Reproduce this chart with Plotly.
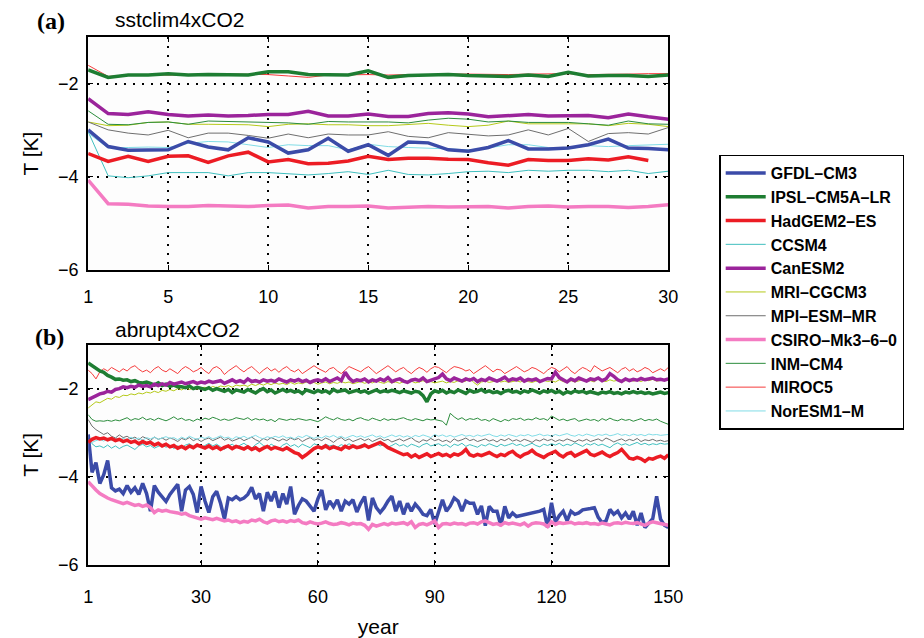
import plotly.graph_objects as go

models = ["GFDL–CM3", "IPSL–CM5A–LR", "HadGEM2–ES", "CCSM4", "CanESM2", "MRI–CGCM3",
          "MPI–ESM–MR", "CSIRO–Mk3–6–0", "INM–CM4", "MIROC5", "NorESM1–M"]
colors = ["#3b4ba8", "#1e7d32", "#ec1c24", "#3fbfbf", "#9b249b", "#b5c91a",
          "#6e6e6e", "#f47bc2", "#2b8c3c", "#f53b3b", "#80dce6"]
widths = [3.5, 3.5, 3.5, 1, 3.5, 1, 1, 3.5, 1, 1, 1]

years_a = list(range(1, 31))
years_b = list(range(1, 151))
xticks_a = [1, 5, 10, 15, 20, 25, 30]
xticks_b = [1, 30, 60, 90, 120, 150]
yticks = [-6, -4, -2]

# ---- (a) sstclim4xCO2 ----
gfdl_a = [-2.99, -3.35, -3.43, -3.43, -3.42, -3.24, -3.36, -3.42, -3.16, -3.25, -3.49, -3.42, -3.17, -3.45, -3.31,
          -3.54, -3.25, -3.27, -3.42, -3.45, -3.37, -3.22, -3.40, -3.40, -3.38, -3.31, -3.19, -3.38, -3.39, -3.42]
ipsl_a = [-1.70, -1.86, -1.81, -1.81, -1.78, -1.81, -1.80, -1.81, -1.81, -1.74, -1.74, -1.80, -1.81, -1.81, -1.72,
          -1.86, -1.82, -1.81, -1.80, -1.82, -1.83, -1.84, -1.81, -1.84, -1.75, -1.83, -1.82, -1.82, -1.84, -1.81]
hadgem_a = [-3.50, -3.67, -3.56, -3.67, -3.56, -3.55, -3.69, -3.55, -3.47, -3.68, -3.63, -3.72, -3.71, -3.66, -3.56,
            -3.63, -3.60, -3.60, -3.62, -3.63, -3.70, -3.75, -3.63, -3.65, -3.65, -3.61, -3.64, -3.57, -3.65, None]
ccsm4_a = [-3.03, -3.98, -4.02, -3.98, -3.91, -3.91, -3.91, -3.98, -3.91, -3.91, -3.93, -3.96, -3.93, -3.89, -3.95,
           -3.86, -3.95, -3.96, -3.93, -3.89, -3.88, -3.91, -3.86, -3.88, -3.86, -3.86, -3.89, -3.86, -3.93, -3.88]
canesm_a = [-2.32, -2.64, -2.66, -2.60, -2.66, -2.69, -2.67, -2.69, -2.68, -2.66, -2.66, -2.59, -2.69, -2.69, -2.65,
            -2.70, -2.70, -2.64, -2.62, -2.65, -2.71, -2.69, -2.66, -2.69, -2.68, -2.68, -2.73, -2.65, -2.71, -2.76]
mri_a = [-2.82, -2.90, -2.89, -2.83, -2.82, -2.87, -2.87, -2.87, -2.88, -2.92, -2.87, -2.86, -2.88, -2.88, -2.90,
         -2.90, -2.87, -2.85, -2.89, -2.92, -2.89, -2.80, -2.86, -2.86, -2.85, -2.86, -2.90, -2.85, -2.87, -2.92]
mpi_a = [-2.82, -2.99, -3.06, -3.10, -3.00, -3.16, -3.06, -3.06, -3.11, -3.17, -3.08, -3.16, -3.08, -3.10, -3.10,
         -3.03, -3.13, -3.16, -3.05, -3.08, -3.12, -3.10, -2.99, -3.10, -2.96, -3.24, -3.07, -3.05, -3.08, -2.94]
csiro_a = [-4.07, -4.58, -4.59, -4.63, -4.64, -4.64, -4.62, -4.63, -4.64, -4.62, -4.61, -4.67, -4.64, -4.64, -4.63,
           -4.67, -4.66, -4.64, -4.65, -4.64, -4.64, -4.67, -4.64, -4.63, -4.65, -4.64, -4.64, -4.66, -4.64, -4.60]
inm_a = [-2.58, -2.87, -2.88, -2.83, -2.82, -2.87, -2.80, -2.81, -2.81, -2.82, -2.84, -2.87, -2.81, -2.82, -2.82,
         -2.82, -2.84, -2.78, -2.74, -2.76, -2.82, -2.80, -2.83, -2.83, -2.83, -2.86, -2.89, -2.80, -2.86, -2.87]
miroc_a = [-1.60, -1.84, -1.81, -1.81, -1.80, -1.80, -1.81, -1.79, -1.79, -1.80, -1.83, -1.86, -1.81, -1.80, -1.80,
           -1.81, -1.80, -1.81, -1.79, -1.79, -1.80, -1.80, -1.79, -1.79, -1.78, -1.80, -1.80, -1.79, -1.78, -1.78]
noresm_a = [-3.06, -3.38, -3.37, -3.36, -3.37, -3.28, -3.24, -3.25, -3.31, -3.37, -3.31, -3.33, -3.33, -3.42, -3.30,
            -3.35, -3.37, -3.38, -3.40, -3.42, -3.38, -3.31, -3.31, -3.37, -3.40, -3.33, -3.35, -3.33, -3.32, -3.30]

# ---- (b) abrupt4xCO2 ----
gfdl_b = [-3.04, -3.90, -3.68, -4.15, -3.95, -3.63, -4.25, -4.32, -4.28, -4.38,
          -4.20, -4.35, -4.25, -4.40, -4.15, -4.38, -4.78, -4.20, -4.35, -4.45,
          -4.56, -4.40, -4.30, -4.17, -4.78, -4.30, -4.22, -4.40, -4.81, -4.22,
          -4.55, -4.81, -4.45, -4.33, -4.60, -4.96, -4.48, -4.52, -4.45, -4.52,
          -4.48, -4.40, -4.24, -4.50, -4.38, -4.78, -4.35, -4.55, -4.33, -4.70,
          -4.38, -4.62, -4.22, -4.85, -4.65, -4.50, -4.55, -4.68, -4.78, -4.50,
          -4.30, -4.75, -4.55, -4.68, -4.52, -4.78, -4.55, -4.62, -4.52, -4.80,
          -4.60, -4.45, -4.99, -4.48, -4.70, -4.81, -4.70, -4.55, -4.44, -4.78,
          -4.55, -4.85, -4.60, -4.78, -4.62, -4.72, -4.85, -4.88, -4.74, -5.07,
          -4.78, -4.52, -4.78, -4.66, -4.48, -4.55, -4.78, -4.55, -4.60, -4.60,
          -4.85, -4.66, -5.11, -4.67, -4.78, -4.78, -5.11, -4.67, -4.93, -4.82,
          -4.90, -4.88, -4.86, -4.85, -4.82, -4.80, -4.78, -4.74, -5.15, -4.59,
          -5.03, -4.88, -4.78, -5.00, -4.78, -4.85, -4.82, -4.75, -4.74, -4.72,
          -4.70, -4.92, -5.04, -5.00, -4.74, -4.85, -4.78, -4.93, -4.82, -4.96,
          -4.78, -5.10, -4.82, -5.15, -5.05, -4.95, -4.44, -4.96, -5.10, -5.15]
ipsl_b = [-1.42, -1.48, -1.55, -1.60, -1.63, -1.70, -1.74, -1.79, -1.78, -1.81,
          -1.80, -1.84, -1.82, -1.86, -1.87, -1.85, -1.88, -1.92, -1.87, -1.93,
          -1.90, -1.95, -1.92, -1.96, -1.96, -1.98, -1.94, -2.00, -1.97, -2.00,
          -2.02, -1.98, -2.04, -2.00, -2.04, -2.06, -2.02, -2.09, -2.03, -2.05,
          -2.08, -2.02, -2.06, -2.10, -2.04, -2.00, -2.07, -2.03, -2.10, -2.05,
          -2.02, -2.07, -2.04, -2.08, -2.05, -2.11, -2.03, -2.06, -2.09, -2.04,
          -2.08, -2.05, -2.10, -2.02, -2.07, -2.05, -2.03, -2.09, -2.06, -2.04,
          -2.08, -2.05, -2.10, -2.06, -2.03, -2.08, -2.05, -2.07, -2.04, -2.06,
          -2.09, -2.05, -2.07, -2.10, -2.06, -2.08, -2.16, -2.30, -2.12, -2.05,
          -2.08, -2.04, -2.10, -2.06, -2.09, -2.03, -2.07, -2.11, -2.04, -2.08,
          -2.06, -2.02, -2.08, -2.05, -2.09, -2.07, -2.11, -2.06, -2.04, -2.08,
          -2.06, -2.10, -2.05, -2.08, -2.03, -2.07, -2.10, -2.05, -2.08, -2.04,
          -2.09, -2.06, -2.12, -2.07, -2.10, -2.05, -2.08, -2.06, -2.10, -2.07,
          -2.09, -2.12, -2.08, -2.10, -2.07, -2.11, -2.09, -2.12, -2.08, -2.10,
          -2.07, -2.10, -2.08, -2.11, -2.09, -2.12, -2.10, -2.08, -2.11, -2.09]
hadgem_b = [-3.22, -3.15, -3.11, -3.14, -3.12, -3.16, -3.13, -3.18, -3.15, -3.20,
            -3.17, -3.22, -3.19, -3.25, -3.20, -3.24, -3.22, -3.28, -3.24, -3.30,
            -3.26, -3.32, -3.29, -3.35, -3.31, -3.36, -3.30, -3.34, -3.28, -3.32,
            -3.35, -3.30, -3.36, -3.32, -3.38, -3.33, -3.30, -3.36, -3.31, -3.34,
            -3.37, -3.32, -3.38, -3.34, -3.40, -3.35, -3.31, -3.37, -3.33, -3.36,
            -3.39, -3.34, -3.40, -3.45, -3.48, -3.56, -3.50, -3.42, -3.36, -3.32,
            -3.35, -3.30, -3.36, -3.32, -3.34, -3.38, -3.31, -3.35, -3.30, -3.34,
            -3.32, -3.28, -3.33, -3.30, -3.26, -3.22, -3.27, -3.34, -3.38, -3.41,
            -3.46, -3.50, -3.48, -3.55, -3.50, -3.56, -3.52, -3.48, -3.54, -3.50,
            -3.47, -3.52, -3.49, -3.54, -3.48, -3.51, -3.46, -3.38, -3.50, -3.53,
            -3.49, -3.52, -3.48, -3.45, -3.50, -3.54, -3.49, -3.52, -3.46, -3.42,
            -3.50, -3.55, -3.49, -3.46, -3.40, -3.48, -3.52, -3.56, -3.50, -3.47,
            -3.42, -3.50, -3.55, -3.48, -3.45, -3.53, -3.49, -3.46, -3.40, -3.49,
            -3.52, -3.48, -3.44, -3.50, -3.54, -3.49, -3.45, -3.38, -3.47, -3.58,
            -3.60, -3.56, -3.59, -3.65, -3.58, -3.60, -3.56, -3.53, -3.58, -3.50]
ccsm4_b = [-3.12, -3.25, -3.32, -3.30, -3.34, -3.28, -3.35, -3.30, -3.36, -3.31,
           -3.28, -3.33, -3.38, -3.30, -3.26, -3.32, -3.29, -3.35, -3.31, -3.27,
           -3.33, -3.29, -3.36, -3.30, -3.34, -3.28, -3.25, -3.31, -3.27, -3.33,
           -3.29, -3.24, -3.30, -3.26, -3.32, -3.38, -3.30, -3.26, -3.33, -3.28,
           -3.24, -3.30, -3.35, -3.27, -3.22, -3.29, -3.33, -3.26, -3.31, -3.36,
           -3.28, -3.24, -3.31, -3.27, -3.33, -3.26, -3.30, -3.34, -3.25, -3.29,
           -3.32, -3.26, -3.30, -3.28, -3.33, -3.27, -3.31, -3.25, -3.30, -3.34,
           -3.28, -3.26, -3.31, -3.27, -3.25, -3.30, -3.26, -3.33, -3.29, -3.24,
           -3.30, -3.27, -3.32, -3.26, -3.29, -3.33, -3.27, -3.24, -3.30, -3.28,
           -3.25, -3.30, -3.27, -3.33, -3.26, -3.29, -3.24, -3.31, -3.27, -3.30,
           -3.33, -3.27, -3.30, -3.25, -3.29, -3.32, -3.26, -3.30, -3.27, -3.24,
           -3.29, -3.26, -3.31, -3.27, -3.24, -3.29, -3.32, -3.26, -3.29, -3.25,
           -3.28, -3.24, -3.30, -3.26, -3.29, -3.23, -3.27, -3.31, -3.25, -3.28,
           -3.24, -3.29, -3.26, -3.30, -3.34, -3.27, -3.23, -3.28, -3.25, -3.29,
           -3.26, -3.22, -3.27, -3.24, -3.28, -3.25, -3.27, -3.24, -3.26, -3.25]
canesm_b = [-2.25, -2.20, -2.15, -2.12, -2.10, -2.06, -2.08, -2.02, -2.00, -1.96,
            -1.98, -1.95, -1.97, -1.92, -1.95, -1.93, -1.96, -1.90, -1.93, -1.89,
            -1.92, -1.86, -1.90, -1.88, -1.85, -1.89, -1.87, -1.84, -1.88, -1.85,
            -1.87, -1.83, -1.86, -1.85, -1.82, -1.88, -1.84, -1.80, -1.85, -1.82,
            -1.86, -1.78, -1.84, -1.82, -1.85, -1.80, -1.83, -1.81, -1.84, -1.78,
            -1.82, -1.85, -1.80, -1.83, -1.79, -1.84, -1.81, -1.86, -1.82, -1.80,
            -1.83, -1.78, -1.84, -1.80, -1.76, -1.82, -1.63, -1.76, -1.84, -1.80,
            -1.82, -1.78, -1.85, -1.80, -1.83, -1.78, -1.82, -1.75, -1.84, -1.80,
            -1.78, -1.83, -1.86, -1.81, -1.79, -1.82, -1.76, -1.84, -1.80, -1.78,
            -1.75, -1.67, -1.78, -1.82, -1.76, -1.80, -1.83, -1.78, -1.81, -1.77,
            -1.84, -1.79, -1.82, -1.76, -1.80, -1.83, -1.79, -1.74, -1.82, -1.78,
            -1.80, -1.76, -1.83, -1.79, -1.81, -1.78, -1.84, -1.80, -1.77, -1.78,
            -1.63, -1.75, -1.80, -1.85, -1.78, -1.82, -1.76, -1.80, -1.83, -1.78,
            -1.80, -1.76, -1.82, -1.78, -1.66, -1.72, -1.80, -1.84, -1.78, -1.82,
            -1.79, -1.81, -1.77, -1.80, -1.78, -1.76, -1.80, -1.79, -1.81, -1.78]
mri_b = [-2.44, -2.38, -2.30, -2.32, -2.26, -2.22, -2.24, -2.18, -2.20, -2.15,
         -2.16, -2.12, -2.14, -2.10, -2.12, -2.08, -2.10, -2.06, -2.09, -2.04,
         -2.06, -2.02, -2.05, -2.00, -2.03, -1.98, -2.02, -1.99, -2.01, -1.98,
         -1.97, -2.00, -1.95, -1.98, -1.94, -1.96, -1.93, -1.97, -1.92, -1.94,
         -1.92, -1.95, -1.90, -1.93, -1.89, -1.92, -1.88, -1.91, -1.87, -1.90,
         -1.88, -1.91, -1.86, -1.90, -1.87, -1.89, -1.85, -1.88, -1.86, -1.90,
         -1.87, -1.85, -1.89, -1.86, -1.88, -1.84, -1.87, -1.85, -1.89, -1.86,
         -1.84, -1.88, -1.85, -1.87, -1.83, -1.86, -1.88, -1.84, -1.87, -1.85,
         -1.88, -1.84, -1.86, -1.83, -1.87, -1.85, -1.82, -1.86, -1.84, -1.87,
         -1.85, -1.83, -1.87, -1.84, -1.86, -1.82, -1.85, -1.83, -1.76, -1.86,
         -1.92, -1.85, -1.83, -1.86, -1.84, -1.82, -1.85, -1.83, -1.86, -1.84,
         -1.82, -1.85, -1.80, -1.84, -1.86, -1.83, -1.85, -1.81, -1.84, -1.82,
         -1.85, -1.80, -1.84, -1.86, -1.82, -1.85, -1.83, -1.80, -1.84, -1.82,
         -1.85, -1.75, -1.82, -1.84, -1.80, -1.83, -1.81, -1.84, -1.82, -1.80,
         -1.83, -1.81, -1.84, -1.80, -1.82, -1.79, -1.83, -1.81, -1.80, -1.82]
mpi_b = [-2.70, -2.85, -2.93, -2.98, -3.04, -3.00, -3.08, -3.12, -3.05, -3.11,
         -3.08, -3.14, -3.10, -3.16, -3.09, -3.13, -3.18, -3.10, -3.15, -3.12,
         -3.17, -3.12, -3.15, -3.20, -3.13, -3.16, -3.11, -3.18, -3.14, -3.20,
         -3.15, -3.12, -3.18, -3.14, -3.10, -3.17, -3.13, -3.19, -3.15, -3.12,
         -3.18, -3.14, -3.10, -3.16, -3.20, -3.13, -3.17, -3.11, -3.15, -3.19,
         -3.14, -3.18, -3.12, -3.16, -3.13, -3.20, -3.15, -3.11, -3.17, -3.14,
         -3.18, -3.12, -3.16, -3.22, -3.15, -3.11, -3.18, -3.14, -3.20, -3.16,
         -3.13, -3.18, -3.14, -3.20, -3.16, -3.12, -3.18, -3.15, -3.21, -3.17,
         -3.14, -3.19, -3.15, -3.11, -3.18, -3.22, -3.16, -3.19, -3.13, -3.18,
         -3.15, -3.20, -3.17, -3.22, -3.14, -3.19, -3.16, -3.12, -3.18, -3.15,
         -3.20, -3.17, -3.14, -3.19, -3.16, -3.21, -3.15, -3.18, -3.13, -3.19,
         -3.16, -3.20, -3.15, -3.18, -3.22, -3.16, -3.19, -3.14, -3.18, -3.15,
         -3.20, -3.16, -3.19, -3.14, -3.18, -3.21, -3.16, -3.19, -3.15, -3.20,
         -3.17, -3.14, -3.19, -3.12, -3.16, -3.21, -3.17, -3.14, -3.19, -3.15,
         -3.18, -3.13, -3.20, -3.16, -3.18, -3.15, -3.19, -3.17, -3.20, -3.18]
csiro_b = [-4.11, -4.22, -4.30, -4.38, -4.44, -4.48, -4.52, -4.55, -4.58, -4.61,
           -4.58, -4.62, -4.65, -4.63, -4.67, -4.64, -4.70, -4.81, -4.75, -4.78,
           -4.76, -4.79, -4.80, -4.82, -4.85, -4.83, -4.88, -4.90, -4.92, -4.96,
           -4.93, -4.95, -4.97, -4.94, -4.96, -5.00, -4.98, -5.02, -5.00, -5.04,
           -5.01, -5.03, -4.98, -5.00, -4.96, -5.02, -5.05, -5.00, -4.98, -5.02,
           -5.00, -5.03, -4.99, -5.01, -4.98, -5.04, -5.06, -5.02, -5.05, -5.07,
           -5.05, -5.02, -5.06, -5.08, -5.07, -5.04, -5.06, -5.09, -5.05, -5.07,
           -5.06, -5.10, -5.19, -5.08, -5.12, -5.08, -5.06, -5.09, -5.05, -5.07,
           -5.06, -5.04, -5.08, -5.02, -5.15, -5.08, -5.06, -5.09, -5.05, -5.00,
           -5.15, -5.07, -5.06, -5.08, -5.05, -5.07, -5.06, -5.09, -5.05, -5.04,
           -5.07, -5.02, -5.00, -5.05, -5.08, -5.06, -5.10, -5.04, -5.07, -5.05,
           -5.06, -5.09, -5.05, -5.12, -5.06, -5.04, -5.05, -5.07, -5.13, -5.02,
           -5.08, -5.04, -5.06, -5.05, -5.03, -5.07, -5.05, -5.06, -5.04, -5.07,
           -5.06, -5.08, -5.05, -5.07, -5.09, -5.05, -5.04, -5.06, -5.03, -5.05,
           -5.06, -5.04, -5.07, -5.10, -5.05, -5.02, -5.04, -5.06, -5.07, -5.10]
inm_b = [-2.59, -2.70, -2.74, -2.73, -2.74, -2.72, -2.74, -2.71, -2.73, -2.70,
         -2.66, -2.72, -2.68, -2.70, -2.65, -2.71, -2.68, -2.72, -2.67, -2.70,
         -2.73, -2.69, -2.64, -2.70, -2.67, -2.72, -2.70, -2.74, -2.69, -2.72,
         -2.67, -2.70, -2.65, -2.68, -2.72, -2.69, -2.72, -2.70, -2.66, -2.68,
         -2.70, -2.66, -2.72, -2.68, -2.71, -2.69, -2.73, -2.70, -2.75, -2.68,
         -2.70, -2.72, -2.69, -2.71, -2.68, -2.70, -2.72, -2.70, -2.73, -2.75,
         -2.70, -2.64, -2.68, -2.71, -2.66, -2.70, -2.72, -2.69, -2.73, -2.68,
         -2.66, -2.70, -2.72, -2.67, -2.70, -2.73, -2.68, -2.72, -2.69, -2.71,
         -2.68, -2.66, -2.70, -2.72, -2.68, -2.70, -2.73, -2.69, -2.71, -2.70,
         -2.72, -2.74, -2.83, -2.56, -2.64, -2.70, -2.66, -2.72, -2.68, -2.70,
         -2.67, -2.72, -2.70, -2.74, -2.68, -2.72, -2.75, -2.70, -2.73, -2.68,
         -2.70, -2.67, -2.72, -2.69, -2.71, -2.66, -2.70, -2.68, -2.72, -2.62,
         -2.67, -2.72, -2.69, -2.73, -2.70, -2.68, -2.74, -2.71, -2.69, -2.72,
         -2.70, -2.74, -2.68, -2.72, -2.67, -2.71, -2.73, -2.69, -2.72, -2.70,
         -2.74, -2.71, -2.68, -2.73, -2.70, -2.72, -2.69, -2.74, -2.78, -2.81]
miroc_b = [-1.58, -1.66, -1.78, -1.62, -1.55, -1.60, -1.52, -1.57, -1.62, -1.55,
           -1.60, -1.52, -1.48, -1.56, -1.62, -1.58, -1.64, -1.55, -1.50, -1.58,
           -1.62, -1.55, -1.60, -1.66, -1.56, -1.50, -1.55, -1.62, -1.58, -1.52,
           -1.60, -1.66, -1.54, -1.50, -1.56, -1.68, -1.60, -1.54, -1.48, -1.56,
           -1.62, -1.55, -1.50, -1.58, -1.66, -1.58, -1.52, -1.60, -1.55, -1.63,
           -1.55, -1.50, -1.58, -1.62, -1.56, -1.66, -1.60, -1.52, -1.48, -1.54,
           -1.58, -1.63, -1.55, -1.52, -1.60, -1.66, -1.58, -1.50, -1.54, -1.58,
           -1.62, -1.55, -1.50, -1.58, -1.66, -1.60, -1.54, -1.48, -1.55, -1.62,
           -1.56, -1.52, -1.60, -1.66, -1.58, -1.52, -1.56, -1.63, -1.55, -1.50,
           -1.52, -1.58, -1.64, -1.56, -1.50, -1.52, -1.55, -1.60, -1.57, -1.66,
           -1.60, -1.52, -1.48, -1.55, -1.62, -1.56, -1.58, -1.66, -1.60, -1.54,
           -1.50, -1.56, -1.62, -1.58, -1.52, -1.55, -1.60, -1.66, -1.58, -1.52,
           -1.55, -1.62, -1.56, -1.50, -1.60, -1.66, -1.58, -1.52, -1.56, -1.62,
           -1.48, -1.54, -1.60, -1.56, -1.52, -1.58, -1.64, -1.56, -1.52, -1.60,
           -1.55, -1.62, -1.58, -1.52, -1.56, -1.64, -1.60, -1.55, -1.60, -1.52]
noresm_b = [-3.20, -3.22, -3.18, -3.15, -3.19, -3.14, -3.17, -3.12, -3.16, -3.13,
            -3.16, -3.10, -3.15, -3.12, -3.17, -3.11, -3.14, -3.10, -3.15, -3.12,
            -3.09, -3.13, -3.11, -3.16, -3.10, -3.14, -3.08, -3.12, -3.15, -3.10,
            -3.13, -3.09, -3.14, -3.11, -3.07, -3.12, -3.10, -3.15, -3.09, -3.12,
            -3.08, -3.13, -3.10, -3.06, -3.11, -3.14, -3.09, -3.12, -3.08, -3.11,
            -3.07, -3.12, -3.10, -3.14, -3.08, -3.11, -3.06, -3.10, -3.13, -3.09,
            -3.12, -3.07, -3.10, -3.06, -3.11, -3.08, -3.13, -3.09, -3.06, -3.10,
            -3.07, -3.11, -3.08, -3.05, -3.10, -3.07, -3.12, -3.08, -3.05, -3.09,
            -3.06, -3.10, -3.07, -3.11, -3.06, -3.09, -3.05, -3.08, -3.11, -3.04,
            -3.08, -3.05, -3.09, -3.06, -3.10, -3.07, -3.04, -3.08, -3.06, -3.09,
            -3.05, -3.08, -3.06, -3.03, -3.07, -3.09, -3.05, -3.08, -3.04, -3.07,
            -3.09, -3.05, -3.07, -3.04, -3.08, -3.06, -3.03, -3.07, -3.05, -3.08,
            -3.04, -3.07, -3.05, -3.02, -3.06, -3.08, -3.04, -3.07, -3.03, -3.06,
            -3.08, -3.04, -3.06, -3.03, -3.07, -3.05, -3.02, -3.06, -3.04, -3.07,
            -3.03, -3.06, -3.04, -3.07, -3.03, -3.05, -3.04, -3.06, -3.05, -3.04]

series_a = [gfdl_a, ipsl_a, hadgem_a, ccsm4_a, canesm_a, mri_a, mpi_a, csiro_a, inm_a, miroc_a, noresm_a]
series_b = [gfdl_b, ipsl_b, hadgem_b, ccsm4_b, canesm_b, mri_b, mpi_b, csiro_b, inm_b, miroc_b, noresm_b]

W, H = 924, 638
fig = go.Figure()

order = sorted(range(len(models)), key=lambda i: widths[i])
for i in order:
    fig.add_trace(go.Scatter(x=years_a, y=series_a[i], mode="lines", name=models[i],
                             line=dict(color=colors[i], width=widths[i]),
                             xaxis="x", yaxis="y", showlegend=True, legendrank=i + 1))
    fig.add_trace(go.Scatter(x=years_b, y=series_b[i], mode="lines", name=models[i],
                             line=dict(color=colors[i], width=widths[i]),
                             xaxis="x2", yaxis="y2", showlegend=False))

font_fam = "Liberation Sans, Arial, sans-serif"
axis_common = dict(showline=True, linecolor="black", linewidth=2, mirror="ticks",
                   ticks="inside", ticklen=5, tickwidth=1, tickcolor="black",
                   showgrid=True, gridcolor="black", gridwidth=1.5, griddash="2px,7px",
                   zeroline=False, tickfont=dict(family=font_fam, size=18, color="black"))
title_font = dict(size=21, family=font_fam, color="black")

xd = [85 / W, 678 / W]
fig.update_layout(
    width=W, height=H,
    margin=dict(l=0, r=0, t=0, b=0),
    paper_bgcolor="white", plot_bgcolor="#fdfdfd",
    font=dict(family=font_fam, color="black"),
    xaxis=dict(domain=xd, range=[1, 30], tickvals=xticks_a, anchor="y", ticklabelstandoff=10, **axis_common),
    yaxis=dict(domain=[1 - 274 / H, 1 - 38 / H], range=[-6, -1], tickvals=yticks, anchor="x",
               ticklabelstandoff=4, title=dict(text="T [K]", font=title_font, standoff=14), **axis_common),
    xaxis2=dict(domain=xd, range=[1, 150], tickvals=xticks_b, anchor="y2", ticklabelstandoff=14,
                title=dict(text="year", font=title_font, standoff=16), **axis_common),
    yaxis2=dict(domain=[1 - 574 / H, 1 - 350 / H], range=[-6, -1], tickvals=yticks, anchor="x2",
                ticklabelstandoff=4, title=dict(text="T [K]", font=title_font, standoff=14), **axis_common),
    legend=dict(x=730 / W, y=1 - 157 / H, xanchor="left", yanchor="top",
                bordercolor="black", borderwidth=1.5, bgcolor="white",
                font=dict(family=font_fam, size=16, color="black", weight="bold"),
                tracegroupgap=0, itemwidth=40),
    annotations=[
        dict(text="<b>(a)</b>", x=31 / W, y=1 - 21 / H, xref="paper", yref="paper", showarrow=False,
             xanchor="left", yanchor="middle", font=dict(family="Liberation Serif, Times New Roman, serif", size=24)),
        dict(text="sstclim4xCO2", x=110 / W, y=1 - 20 / H, xref="paper", yref="paper", showarrow=False,
             xanchor="left", yanchor="middle", font=dict(family=font_fam, size=21)),
        dict(text="<b>(b)</b>", x=29 / W, y=1 - 342 / H, xref="paper", yref="paper", showarrow=False,
             xanchor="left", yanchor="middle", font=dict(family="Liberation Serif, Times New Roman, serif", size=24)),
        dict(text="abrupt4xCO2", x=110 / W, y=1 - 335 / H, xref="paper", yref="paper", showarrow=False,
             xanchor="left", yanchor="middle", font=dict(family=font_fam, size=21)),
    ],
)

fig.write_html("out.html")
